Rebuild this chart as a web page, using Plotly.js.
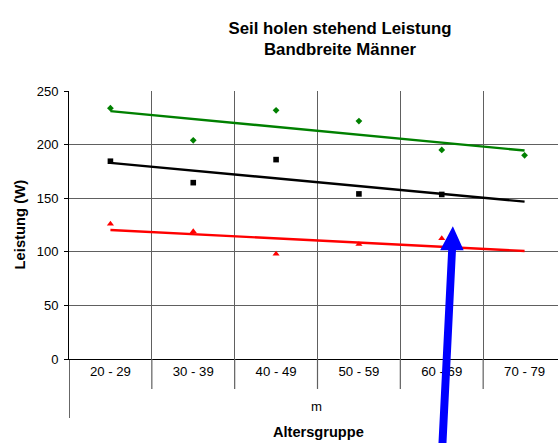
<!DOCTYPE html>
<html>
<head>
<meta charset="utf-8">
<script src="https://cdn.plot.ly/plotly-3.0.1.min.js"></script>
<style>
html,body{margin:0;padding:0;overflow:hidden;background:#fff;}
#chart{width:580px;height:443px;}
</style>
</head>
<body>
<div id="chart"></div>
<script>
// ---- data ----
const categories = ['20 - 29', '30 - 39', '40 - 49', '50 - 59', '60 - 69', '70 - 79'];
const greenValues = [234, 204, 232, 222, 195, 190];   // upper band (6 groups)
const blackValues = [184.5, 164.5, 186, 154, 153.5];   // mean (5 groups)
const redValues   = [126, 119, 98, 107, 112.5];         // lower band (5 groups)
const yTicks = [0, 50, 100, 150, 200, 250];

// linear trend (least squares over x = 1..n), drawn across all groups
function trend(vals) {
  const n = vals.length;
  let sx = 0, sy = 0, sxx = 0, sxy = 0;
  vals.forEach((v, i) => { const x = i + 1; sx += x; sy += v; sxx += x * x; sxy += x * v; });
  const b = (n * sxy - sx * sy) / (n * sxx - sx * sx);
  const a = (sy - b * sx) / n;
  const xs = [categories[0], categories[categories.length - 1]];
  const ys = [a + b * 1, a + b * categories.length];
  return {x: xs, y: ys};
}

// ---- layout geometry (pixels) ----
const W = 580, H = 443;
const L = 69.3, R = 565.7, T = 91, B = 359.3;
const pw = R - L, ph = B - T;
const px = x => (x - L) / pw;
const py = y => (B - y) / ph;

const FONT = '"Liberation Sans", Arial, sans-serif';

const traces = [];
[[greenValues, '#008000', 'diamond', 5.2],
 [blackValues, '#000000', 'square', 5.6],
 [redValues, '#ff0000', 'triangle-up', 6.2]].forEach(([vals, col, sym, sz]) => {
  const t = trend(vals);
  traces.push({x: t.x, y: t.y, type: 'scatter', mode: 'lines',
    line: {color: col, width: 2.4}, hoverinfo: 'skip', showlegend: false});
  traces.push({x: categories.slice(0, vals.length), y: vals, type: 'scatter', mode: 'markers',
    marker: {color: col, symbol: sym, size: sz, line: {width: 0}}, showlegend: false});
});

const shapes = [];
// extension of the category boundaries below the axis
for (let i = 0; i <= categories.length; i++) {
  shapes.push({type: 'line', xref: 'x', yref: 'paper', x0: i - 0.5, x1: i - 0.5,
    y0: 0, y1: py(i === 0 ? 418.3 : 389.3),
    line: {color: i === 0 ? '#000000' : '#606060', width: 1.2}});
}
// blue arrow overlay
const arrowPts = [[452.7, 226.5], [463.5, 250.5], [455.8, 250.5], [446.2, 446],
                  [438.2, 446], [448, 250.5], [440, 250.5]];
shapes.push({type: 'path', xref: 'paper', yref: 'paper', layer: 'above',
  path: 'M' + arrowPts.map(p => px(p[0]).toFixed(5) + ',' + py(p[1]).toFixed(5)).join(' L') + ' Z',
  fillcolor: '#0000ff', line: {width: 0}});

const layout = {
  width: W, height: H,
  margin: {l: L, r: W - R, t: T, b: H - B, pad: 0},
  paper_bgcolor: '#ffffff', plot_bgcolor: '#ffffff',
  font: {family: FONT, color: '#000000', size: 13},
  showlegend: false,
  title: {
    text: 'Seil holen stehend Leistung<br>Bandbreite Männer',
    font: {family: FONT, size: 16.8, weight: 'bold', color: '#000'},
    xref: 'container', x: 340 / W, xanchor: 'center',
    yref: 'container', y: 1 - 33.5 / H, yanchor: 'middle'
  },
  xaxis: {
    type: 'category', categoryorder: 'array', categoryarray: categories,
    range: [-0.5, categories.length - 0.5],
    tickson: 'boundaries', showgrid: true, gridcolor: '#606060', gridwidth: 1.2,
    showline: true, linecolor: '#000000', linewidth: 1,
    ticks: 'outside', ticklen: 10, tickcolor: 'rgba(0,0,0,0)',
    tickfont: {family: FONT, size: 13.2, color: '#000'},
    zeroline: false, fixedrange: true
  },
  yaxis: {
    range: [0, 250], tickvals: yTicks, ticktext: yTicks.map(String),
    showgrid: true, gridcolor: '#606060', gridwidth: 1.2,
    showline: true, linecolor: '#000000', linewidth: 1,
    ticks: 'outside', ticklen: 4, tickcolor: '#000000',
    ticklabelstandoff: 3,
    tickfont: {family: FONT, size: 13, color: '#000'},
    zeroline: false, fixedrange: true
  },
  shapes: shapes,
  annotations: [
    {text: 'm', xref: 'paper', yref: 'paper', x: px(316.7), y: py(406.7),
     xanchor: 'center', yanchor: 'middle', showarrow: false,
     font: {family: FONT, size: 13.2, color: '#000'}},
    {text: 'Altersgruppe', xref: 'paper', yref: 'paper', x: px(318), y: py(432.7),
     xanchor: 'center', yanchor: 'middle', showarrow: false,
     font: {family: FONT, size: 14.6, weight: 'bold', color: '#000'}},
    {text: 'Leistung (W)', xref: 'paper', yref: 'paper', x: px(20), y: py(225),
     xanchor: 'center', yanchor: 'middle', showarrow: false, textangle: -90,
     font: {family: FONT, size: 14.8, weight: 'bold', color: '#000'}}
  ]
};

Plotly.newPlot('chart', traces, layout, {staticPlot: true, displayModeBar: false});
</script>
</body>
</html>
